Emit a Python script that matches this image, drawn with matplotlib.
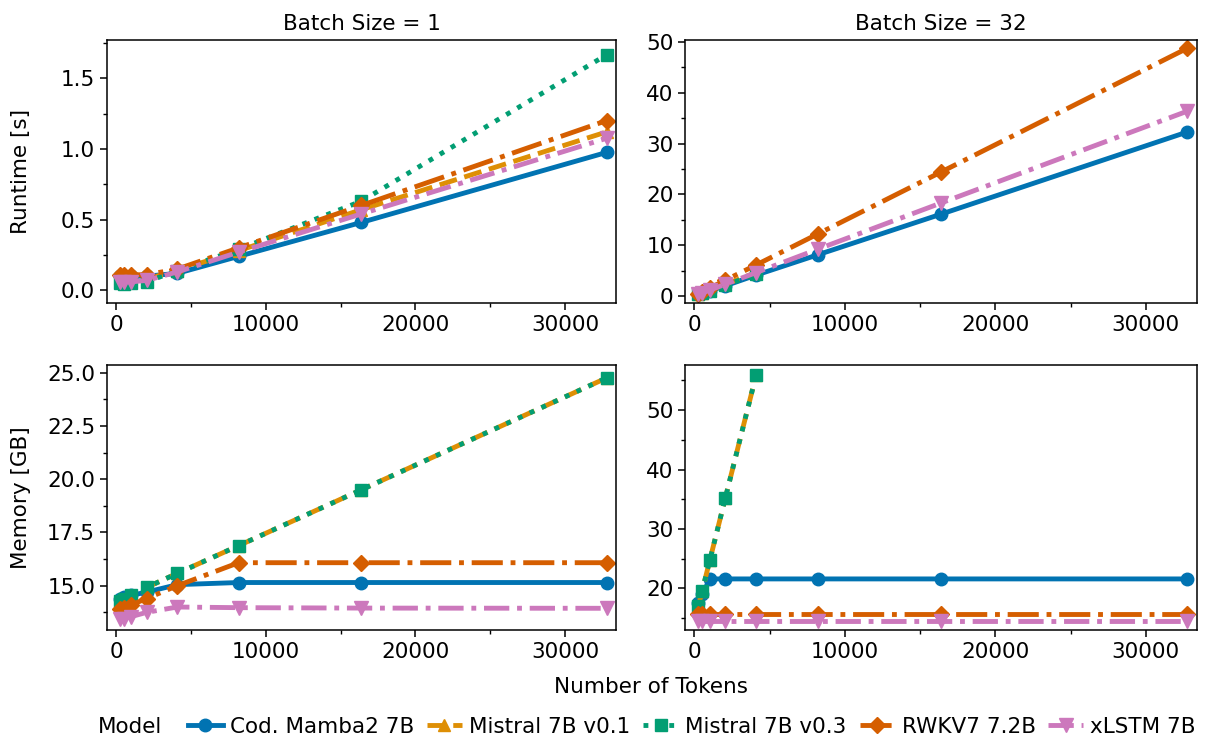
import numpy as np
import matplotlib
matplotlib.use("Agg")
import matplotlib.pyplot as plt
from matplotlib.ticker import AutoMinorLocator

nan = np.nan

# number of tokens
tokens = [256, 512, 1024, 2048, 4096, 8192, 16384, 32768]
models = ["Cod. Mamba2 7B", "Mistral 7B v0.1", "Mistral 7B v0.3", "RWKV7 7.2B", "xLSTM 7B"]

# runtime [s], batch size 1
rt_b1_mamba = [0.10, 0.10, 0.10, 0.10, 0.12, 0.24, 0.48, 0.975]
rt_b1_mistral01 = [0.09, 0.08, 0.08, 0.08, 0.14, 0.28, 0.57, 1.12]
rt_b1_mistral03 = [0.05, 0.045, 0.05, 0.06, 0.14, 0.29, 0.63, 1.665]
rt_b1_rwkv = [0.11, 0.11, 0.11, 0.11, 0.15, 0.30, 0.60, 1.20]
rt_b1_xlstm = [0.06, 0.06, 0.06, 0.07, 0.13, 0.27, 0.54, 1.075]

# runtime [s], batch size 32 (Mistral OOM after 4096)
rt_b32_mamba = [0.3, 0.5, 1.0, 2.0, 4.1, 8.1, 16.1, 32.3]
rt_b32_mistral01 = [0.35, 0.6, 1.15, 2.3, 4.6, nan, nan, nan]
rt_b32_mistral03 = [0.3, 0.55, 1.05, 2.1, 4.3, nan, nan, nan]
rt_b32_rwkv = [0.4, 0.8, 1.55, 3.1, 6.1, 12.2, 24.4, 48.8]
rt_b32_xlstm = [0.3, 0.6, 1.15, 2.3, 4.6, 9.2, 18.3, 36.4]

# memory [GB], batch size 1
mem_b1_mamba = [14.4, 14.45, 14.55, 14.7, 15.05, 15.15, 15.15, 15.15]
mem_b1_mistral01 = [14.3, 14.4, 14.56, 14.92, 15.58, 16.88, 19.5, 24.75]
mem_b1_mistral03 = [14.3, 14.4, 14.56, 14.92, 15.58, 16.88, 19.5, 24.75]
mem_b1_rwkv = [13.9, 13.95, 14.1, 14.4, 15.0, 16.08, 16.08, 16.08]
mem_b1_xlstm = [13.45, 13.45, 13.55, 13.75, 14.0, 13.97, 13.95, 13.94]

# memory [GB], batch size 32
mem_b32_mamba = [17.5, 19.0, 21.6, 21.6, 21.6, 21.6, 21.6, 21.6]
mem_b32_mistral01 = [17.0, 19.6, 24.8, 35.2, 55.9, nan, nan, nan]
mem_b32_mistral03 = [17.0, 19.6, 24.8, 35.2, 55.9, nan, nan, nan]
mem_b32_rwkv = [15.7, 15.7, 15.7, 15.7, 15.7, 15.7, 15.7, 15.7]
mem_b32_xlstm = [14.5, 14.5, 14.5, 14.5, 14.5, 14.5, 14.5, 14.5]

colors = ["#0173b2", "#de8f05", "#029e73", "#d55e00", "#cc78bc"]
markers = ["o", "^", "s", "D", "v"]
styles = ["-", "--", ":", "-.", (0, (5.2, 1.6, 1, 1.6))]
msizes = [9, 9, 9, 8.5, 9.5]

FS = 15.5
plt.rcParams["font.size"] = FS
plt.rcParams["axes.linewidth"] = 1.1

fig = plt.figure(figsize=(12.13, 7.4), dpi=100)
ax_tl = fig.add_axes([0.0882, 0.5905, 0.4196, 0.3554])
ax_tr = fig.add_axes([0.5651, 0.5905, 0.4217, 0.3554])
ax_bl = fig.add_axes([0.0882, 0.1486, 0.4196, 0.3582])
ax_br = fig.add_axes([0.5651, 0.1486, 0.4217, 0.3582])

panels = [
    (ax_tl, [rt_b1_mamba, rt_b1_mistral01, rt_b1_mistral03, rt_b1_rwkv, rt_b1_xlstm], (-0.09, 1.77)),
    (ax_tr, [rt_b32_mamba, rt_b32_mistral01, rt_b32_mistral03, rt_b32_rwkv, rt_b32_xlstm], (-1.4, 50.4)),
    (ax_bl, [mem_b1_mamba, mem_b1_mistral01, mem_b1_mistral03, mem_b1_rwkv, mem_b1_xlstm], (12.92, 25.36)),
    (ax_br, [mem_b32_mamba, mem_b32_mistral01, mem_b32_mistral03, mem_b32_rwkv, mem_b32_xlstm], (13.0, 57.6)),
]

for ax, series, ylim in panels:
    for i, ys in enumerate(series):
        ax.plot(tokens, ys, color=colors[i], marker=markers[i], linestyle=styles[i],
                linewidth=3.5, markersize=msizes[i], label=models[i])
    ax.set_xlim(-600, 33400)
    ax.set_ylim(*ylim)
    ax.set_xticks([0, 10000, 20000, 30000])
    ax.xaxis.set_minor_locator(AutoMinorLocator(2))
    ax.yaxis.set_minor_locator(AutoMinorLocator(2))
    ax.tick_params(which="major", length=5, width=1.1, labelsize=FS)
    ax.tick_params(which="minor", length=3, width=1.0)

ax_tl.set_yticks([0.0, 0.5, 1.0, 1.5])
ax_tr.set_yticks([0, 10, 20, 30, 40, 50])
ax_bl.set_yticks([15.0, 17.5, 20.0, 22.5, 25.0])
ax_br.set_yticks([20, 30, 40, 50])

ax_tl.set_title("Batch Size = 1", fontsize=FS, pad=7)
ax_tr.set_title("Batch Size = 32", fontsize=FS, pad=7)
ax_tl.set_ylabel("Runtime [s]", fontsize=FS)
ax_bl.set_ylabel("Memory [GB]", fontsize=FS)
ax_tl.yaxis.set_label_coords(-0.15, 0.5)
ax_bl.yaxis.set_label_coords(-0.15, 0.5)
fig.text(0.537, 0.072, "Number of Tokens", ha="center", va="center", fontsize=FS)

handles, labels = ax_tl.get_legend_handles_labels()
fig.text(0.081, 0.0176, "Model", ha="left", va="center", fontsize=FS)
fig.legend(handles, labels, loc="center", bbox_to_anchor=(0.5705, 0.0176), ncol=5,
           frameon=False, fontsize=FS, handlelength=1.6, handletextpad=0.35,
           columnspacing=0.6, borderpad=0.2)

fig.savefig("out.png", dpi=100)
